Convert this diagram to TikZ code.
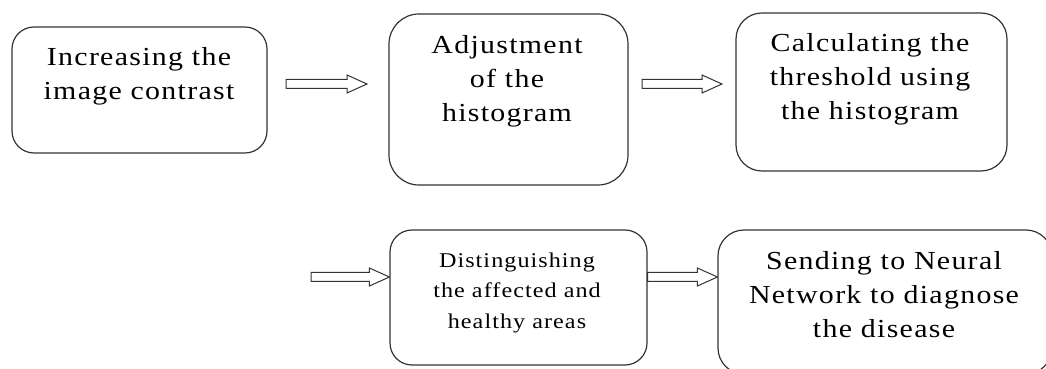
\documentclass[tikz,border=0pt]{standalone}
\usepackage{fontspec}
\setmainfont{Liberation Serif}[LetterSpace=5, FakeStretch=1.15]
\usetikzlibrary{calc}
\tikzset{
  flowbox/.style={draw=black!80, line width=1.2pt, rounded corners=22pt, inner sep=0pt},
  bigtxt/.style={align=center, inner sep=0pt, anchor=base, font=\fontsize{26}{34}\selectfont},
  smalltxt/.style={align=center, inner sep=0pt, anchor=base, font=\fontsize{21}{30}\selectfont},
  hollow/.style={draw=black!80, line width=1pt, line join=miter,
    to path={let \p1=(\tikztostart), \p2=(\tikztotarget) in
      (\x1,\y1-4.5pt) -- (\x2-20pt,\y1-4.5pt) -- (\x2-20pt,\y1-9pt) -- (\x2,\y1)
      -- (\x2-20pt,\y1+9pt) -- (\x2-20pt,\y1+4.5pt) -- (\x1,\y1+4.5pt) -- cycle}}
}
\begin{document}
\begin{tikzpicture}[x=1pt,y=1pt]
\useasboundingbox (0,0) rectangle (1046,369);
\begin{scope}
\clip (0,0) rectangle (1046,369);
% boxes (image y -> 369 - y)
\node[flowbox, minimum width=255pt, minimum height=126pt] (b1) at (139.5,279) {};
\node[flowbox, minimum width=239pt, minimum height=171pt, rounded corners=30pt] (b2) at (508.5,269.5) {};
\node[flowbox, minimum width=271pt, minimum height=158pt, rounded corners=26pt] (b3) at (871.5,277) {};
\node[flowbox, minimum width=257pt, minimum height=135pt] (b4) at (518.5,71.5) {};
\node[flowbox, minimum width=334pt, minimum height=144pt, rounded corners=26pt] (b5) at (885,67) {};
\end{scope}
% texts (anchor base = baseline of last line)
\node[bigtxt] (t1) at (139,269) {Increasing the\\image contrast};
\node[bigtxt] (t2) at (507,247) {Adjustment\\of the\\histogram};
\node[bigtxt] (t3) at (870,249) {Calculating the\\threshold using\\the histogram};
\node[smalltxt] (t4) at (517,41) {Distinguishing\\the affected and\\healthy areas};
\node[bigtxt] (t5) at (884,31) {Sending to Neural\\Network to diagnose\\the disease};
% arrows
\coordinate (a1s) at (286,285);
\coordinate (a1e) at (367,285);
\coordinate (a2s) at (642,285);
\coordinate (a2e) at (722,285);
\coordinate (a3s) at (311,92);
\draw[hollow] (a1s) to (a1e);
\draw[hollow] (a2s) to (a2e);
\draw[hollow] (a3s) to (b4.west |- a3s);
\draw[hollow] (b4.east |- a3s) to (b5.west |- a3s);
\end{tikzpicture}
\end{document}
